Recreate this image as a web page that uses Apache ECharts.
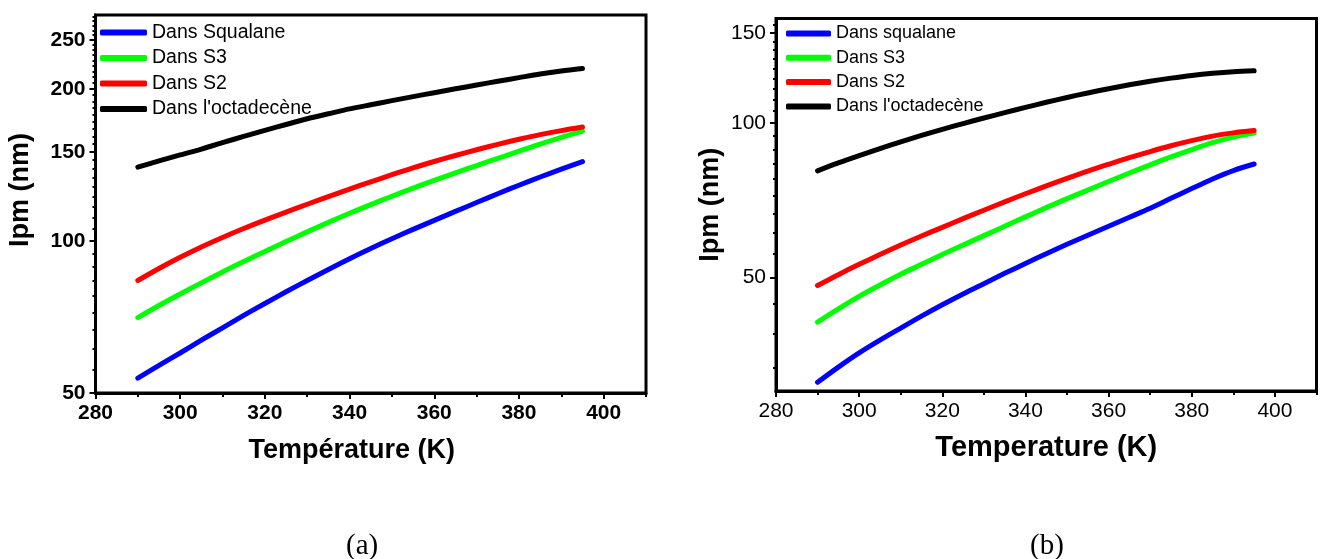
<!DOCTYPE html>
<html>
<head>
<meta charset="utf-8">
<script src="https://cdn.jsdelivr.net/npm/echarts@6/dist/echarts.min.js"></script>
<style>
html,body{margin:0;padding:0;background:#fff;}
#chart{width:1325px;height:559px;}
</style>
</head>
<body>
<div id="chart"></div>
<script>
// ---- Data ----
const temps = [290, 295, 300, 305, 310, 315, 320, 325, 330, 335, 340, 345, 350, 355, 360, 365, 370, 375, 380, 385, 390, 395];

// Panel (a)
const squalaneA = [53.5, 56.7, 60, 63.6, 67.3, 71.2, 75.2, 79.3, 83.5, 87.8, 92.2, 96.6, 101, 105.4, 109.8, 114.4, 119.1, 124, 128.9, 133.8, 138.7, 143.5];
const s3A       = [70.5, 74.5, 78.5, 82.6, 86.8, 91, 95.3, 99.7, 104.2, 108.8, 113.4, 118, 122.6, 127.2, 131.8, 136.4, 141, 145.7, 150.5, 155.5, 160.3, 165];
const s2A       = [83.5, 88.2, 92.8, 97.3, 101.6, 105.8, 109.9, 114, 118.2, 122.4, 126.6, 130.9, 135.2, 139.5, 143.6, 147.6, 151.5, 155.3, 158.9, 162.3, 165.3, 168];
const octA      = [140, 144, 148, 152, 156.5, 161, 165.5, 170, 174.5, 178.5, 182.5, 186, 189.5, 193, 196.5, 200, 203.5, 207, 210.5, 214, 217, 219.5];

// Panel (b)
const squalaneB = [31.2, 33.4, 35.6, 37.7, 39.8, 42, 44.2, 46.4, 48.6, 50.9, 53.2, 55.6, 58, 60.4, 62.9, 65.5, 68.2, 71.3, 74.5, 77.8, 80.8, 83.2];
const s3B       = [40.9, 43.4, 45.9, 48.3, 50.7, 53, 55.4, 57.8, 60.3, 62.9, 65.6, 68.4, 71.2, 74, 76.9, 79.9, 82.9, 85.9, 88.8, 91.6, 93.9, 95.6];
const s2B       = [48.2, 50.6, 53, 55.4, 57.8, 60.2, 62.6, 65.1, 67.6, 70.2, 72.8, 75.4, 78, 80.6, 83.1, 85.6, 88, 90.3, 92.4, 94.3, 95.7, 96.7];
const octB      = [80.7, 83.6, 86.4, 89.2, 91.9, 94.6, 97.2, 99.8, 102.3, 104.8, 107.3, 109.8, 112.2, 114.5, 116.7, 118.8, 120.7, 122.4, 123.9, 125.1, 126, 126.5];

// Ticks
const xTicks = [280, 300, 320, 340, 360, 380, 400];
const xMinorTicks = [290, 310, 330, 350, 370, 390, 410];
const yTicksA = [50, 100, 150, 200, 250];
const yTicksB = [50, 100, 150];
const yRangeA = [50, 280];
const yRangeB = [30, 160];

// minor y ticks: 8 subdivisions between majors (step 50/9)
function minorTicks(range, step, sub) {
  const out = [];
  const d = step / (sub + 1);
  const start = Math.floor(range[0] / step) * step;
  for (let m = start; m <= range[1]; m += step) {
    for (let k = 1; k <= sub; k++) {
      const v = m + k * d;
      if (v > range[0] && v < range[1]) out.push(+v.toFixed(4));
    }
  }
  return out;
}
const yMinorA = minorTicks(yRangeA, 50, 8);
const yMinorB = minorTicks(yRangeB, 50, 8);

const namesA = ['Dans Squalane', 'Dans S3', 'Dans S2', "Dans l'octadecène"];
const namesB = ['Dans squalane', 'Dans S3', 'Dans S2', "Dans l'octadecène"];
const colors = ['#0000ff', '#00ff00', '#ff0000', '#000000'];

const FF = '"Liberation Sans", Arial, sans-serif';

function pairs(arr) { return temps.map((t, i) => [t, arr[i]]); }

function mainX(gi, name, gap, pad, fs, lw) {
  return {
    type: 'value', gridIndex: gi, min: 280, max: 410, interval: 10, position: 'bottom',
    axisLine: { show: true, onZero: false, lineStyle: { color: '#000', width: 3 } },
    axisTick: { show: true, inside: false, length: 6, customValues: xTicks, lineStyle: { color: '#000', width: 2 } },
    axisLabel: { show: true, customValues: xTicks, color: '#000', fontSize: 21, fontWeight: lw, fontFamily: FF, margin: 10 },
    splitLine: { show: false },
    name: name, nameLocation: 'middle', nameGap: gap,
    nameTextStyle: { color: '#000', fontSize: fs, fontWeight: 'bold', fontFamily: FF, padding: pad }
  };
}
function minorX(gi) {
  return {
    type: 'value', gridIndex: gi, min: 280, max: 410, interval: 10, position: 'bottom',
    axisLine: { show: false, onZero: false },
    axisTick: { show: true, inside: false, length: 4, customValues: xMinorTicks, lineStyle: { color: '#000', width: 2 } },
    axisLabel: { show: false },
    splitLine: { show: false }
  };
}
function mainY(gi, range, ticks, gap, pad, lw) {
  return {
    type: 'log', logBase: 10, gridIndex: gi, min: range[0], max: range[1], position: 'left',
    axisLine: { show: true, lineStyle: { color: '#000', width: 3 } },
    axisTick: { show: true, inside: false, length: 6, customValues: ticks, lineStyle: { color: '#000', width: 2 } },
    axisLabel: { show: true, customValues: ticks, color: '#000', fontSize: 21, fontWeight: lw, fontFamily: FF, margin: 10,
                 formatter: v => String(Math.round(v)) },
    splitLine: { show: false }, minorTick: { show: false }, minorSplitLine: { show: false },
    name: 'Ipm (nm)', nameLocation: 'middle', nameRotate: 90, nameGap: gap,
    nameTextStyle: { color: '#000', fontSize: 27, fontWeight: 'bold', fontFamily: FF, padding: pad }
  };
}
function minorY(gi, range, ticks) {
  return {
    type: 'log', logBase: 10, gridIndex: gi, min: range[0], max: range[1], position: 'left',
    axisLine: { show: false },
    axisTick: { show: true, inside: false, length: 3, customValues: ticks, lineStyle: { color: '#000', width: 2 } },
    axisLabel: { show: false },
    splitLine: { show: false }, minorTick: { show: false }
  };
}

const seriesA = [squalaneA, s3A, s2A, octA].map((arr, i) => ({
  type: 'line', name: namesA[i], xAxisIndex: 0, yAxisIndex: 0,
  data: pairs(arr), showSymbol: false, smooth: 0.3, color: colors[i],
  lineStyle: { width: 5, color: colors[i], cap: 'round', join: 'round' }, z: 3 + i
}));
const seriesB = [squalaneB, s3B, s2B, octB].map((arr, i) => ({
  type: 'line', name: namesB[i], xAxisIndex: 2, yAxisIndex: 2,
  data: pairs(arr), showSymbol: false, smooth: 0.3, color: colors[i],
  lineStyle: { width: 5, color: colors[i], cap: 'round', join: 'round' }, z: 3 + i
}));

const chart = echarts.init(document.getElementById('chart'), null, { renderer: 'canvas' });
chart.setOption({
  animation: false,
  backgroundColor: '#fff',
  grid: [
    { left: 95.5, top: 15, width: 550.5, height: 378, show: true, borderColor: '#000', borderWidth: 3, backgroundColor: 'transparent', containLabel: false, outerBoundsMode: 'none' },
    { left: 776, top: 18.5, width: 540.5, height: 372.5, show: true, borderColor: '#000', borderWidth: 3, backgroundColor: 'transparent', containLabel: false, outerBoundsMode: 'none' }
  ],
  xAxis: [
    mainX(0, 'Température (K)', 44, [0, 38, 0, 0], 27, 'bold'),
    minorX(0),
    mainX(1, 'Temperature (K)', 42, [0, 0, 0, 0], 29, 'normal'),
    minorX(1)
  ],
  yAxis: [
    mainY(0, yRangeA, yTicksA, 61, [0, 0, 0, 28], 'bold'),
    minorY(0, yRangeA, yMinorA),
    mainY(1, yRangeB, yTicksB, 52, [0, 0, 0, 0], 'normal'),
    minorY(1, yRangeB, yMinorB)
  ],
  legend: [
    { data: namesA, left: 95, top: 17.5, orient: 'vertical', itemWidth: 47, itemHeight: 6, itemGap: 5.5,
      icon: 'roundRect', selectedMode: false,
      textStyle: { color: '#000', fontSize: 19.5, fontFamily: FF } },
    { data: namesB, left: 781, top: 19.5, orient: 'vertical', itemWidth: 45, itemHeight: 6, itemGap: 6.3,
      icon: 'roundRect', selectedMode: false,
      textStyle: { color: '#000', fontSize: 18, fontFamily: FF } }
  ],
  graphic: [
    { type: 'text', left: 346, top: 532, style: { text: '(a)', font: '29px "Liberation Serif", "Times New Roman", serif', fill: '#000' } },
    { type: 'text', left: 1030, top: 532, style: { text: '(b)', font: '29px "Liberation Serif", "Times New Roman", serif', fill: '#000' } }
  ],
  series: seriesA.concat(seriesB)
});
</script>
</body>
</html>
